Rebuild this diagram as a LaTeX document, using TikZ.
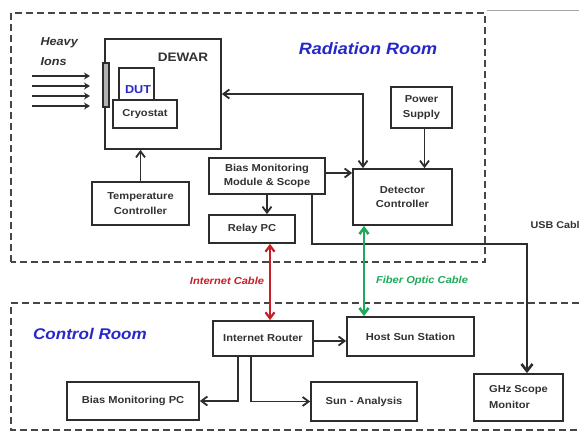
\documentclass[tikz,border=0pt]{standalone}
\usepackage{fontspec}
\setmainfont[FakeStretch=1.1]{Liberation Sans}
\usetikzlibrary{arrows.meta}
\definecolor{boxline}{RGB}{45,45,45}
\definecolor{txt}{RGB}{50,50,50}
\definecolor{roomblue}{RGB}{40,40,200}
\definecolor{cabred}{RGB}{200,30,40}
\definecolor{cabgreen}{RGB}{30,170,90}
\definecolor{dashgray}{RGB}{70,70,70}
\begin{document}
\begin{tikzpicture}[x=1pt,y=-1pt,
  box/.style={draw=boxline,line width=1.8pt,fill=white,inner sep=1pt,align=center,
    font=\bfseries\fontsize{10.1}{14.5}\selectfont,text=txt},
  room/.style={draw=dashgray,line width=2pt,dash pattern=on 7pt off 4pt},
  conn/.style={draw=boxline,line width=1.8pt,-{Straight Barb[length=6pt,width=9pt]}},
  dconn/.style={conn,{Straight Barb[length=6pt,width=9pt]}-{Straight Barb[length=6pt,width=9pt]}},
  roomlabel/.style={text=roomblue,font=\bfseries\itshape\fontsize{16.4}{18}\selectfont},
  cablabel/.style={font=\bfseries\itshape\fontsize{10.1}{12}\selectfont}]
\useasboundingbox[fill=white] (0,0) rectangle (579,432);
% rooms
\draw[room] (11,262) -- (11,13) -- (485,13) -- (485,262) -- cycle;
\draw[room] (579,303) -- (11,303) -- (11,430) -- (579,430);
\draw[gray!70,line width=0.8pt] (487,10) -- (579,10);
\node[roomlabel] (rr) at (368,49) {Radiation Room};
\node[roomlabel,font=\bfseries\itshape\fontsize{15.5}{18}\selectfont] (cr) at (90,334) {Control Room};
% dewar
\node[box,minimum width=116pt,minimum height=110pt] (dewar) at (163,94) {};
\node[font=\bfseries\fontsize{12.3}{14}\selectfont,text=txt] (dewart) at (183,57) {DEWAR};
\node[draw=boxline,line width=1.4pt,fill=gray!60,minimum width=6pt,minimum height=44pt,inner sep=0pt] (win) at (106,85) {};
\node[box,minimum width=35pt,minimum height=32pt] (dut) at (136.5,84) {};
\node[font=\bfseries\fontsize{11.5}{13}\selectfont,text=roomblue] (dutt) at (138,90) {DUT};
\node[box,minimum width=64pt,minimum height=28pt] (cryo) at (145,114) {Cryostat};
% heavy ions
\node[anchor=west,font=\bfseries\itshape\fontsize{11.5}{13}\selectfont,text=txt] (hv) at (37,43) {Heavy};
\node[anchor=west,font=\bfseries\itshape\fontsize{11.5}{13}\selectfont,text=txt] (io) at (37,62) {Ions};
\foreach \yy [count=\i] in {76,86,96,106}{
  \coordinate (ia\i) at (32,\yy);
  \coordinate (ib\i) at (90,\yy);
  \draw[draw=boxline,line width=2pt,-{Stealth[length=6pt,width=7pt]}] (ia\i) -- (ib\i);
}
% other boxes
\node[box,minimum width=97pt,minimum height=43pt] (temp) at (140.5,203.5) {Temperature\\Controller};
\node[box,minimum width=116pt,minimum height=36pt] (bmm) at (267,176) {Bias Monitoring\\Module \& Scope};
\node[box,minimum width=86pt,minimum height=28pt] (relay) at (252,229) {Relay PC};
\node[box,minimum width=61pt,minimum height=41pt] (power) at (421.5,107.5) {Power\\Supply};
\node[box,minimum width=99pt,minimum height=56pt] (det) at (402.5,197) {Detector\\Controller};
\node[box,minimum width=100pt,minimum height=35pt] (router) at (263,338.5) {Internet Router};
\node[box,minimum width=127pt,minimum height=39pt] (host) at (410.5,336.5) {Host Sun Station};
\node[box,minimum width=132pt,minimum height=38pt] (bpc) at (133,401) {Bias Monitoring PC};
\node[box,minimum width=106pt,minimum height=39pt] (sun) at (364,401.5) {Sun - Analysis};
\node[box,minimum width=89pt,minimum height=47pt,align=left,font=\bfseries\fontsize{10.1}{16}\selectfont] (ghz) at (518.5,397.5) {GHz Scope\\Monitor};
% connectors
\draw[dconn] (dewar.east) -| ([xshift=-39.5pt]det.north);
\draw[conn] ([xshift=3pt]power.south) -- ([xshift=3pt]power.south |- det.north);
\draw[conn] (temp.north) -- (temp.north |- dewar.south);
\draw[conn] ([yshift=3pt]bmm.east) -- ([yshift=3pt]det.west |- bmm.east);
\draw[conn] (bmm.south) -- (bmm.south |- relay.north);
\draw[draw=boxline,line width=2.6pt,-{Straight Barb[length=7pt,width=11pt]}] ([xshift=45pt]bmm.south) -- ([xshift=45pt]bmm.south |- relay.south) -| ([xshift=8.5pt]ghz.north);
\node[anchor=west,font=\bfseries\fontsize{9.8}{11}\selectfont,text=txt] (usb) at (527,225) {USB Cable};
\draw[dconn,draw=cabred,line width=2.2pt] ([xshift=18pt]relay.south) -- ([xshift=18pt]relay.south |- router.north);
\node[cablabel,text=cabred] (ic) at (227,281) {Internet Cable};
\draw[dconn,draw=cabgreen,line width=2.6pt] ([xshift=-38.5pt]det.south) -- ([xshift=-38.5pt]det.south |- host.north);
\node[cablabel,text=cabgreen] (fc) at (422,281) {Fiber Optic Cable};
\draw[conn] ([yshift=-2.5pt]router.east) -- ([yshift=-2.5pt]host.west |- router.east);
\draw[conn] ([xshift=-25pt]router.south) |- (bpc.east);
\draw[conn] ([xshift=-12pt]router.south) |- (sun.west);
\end{tikzpicture}
\end{document}
